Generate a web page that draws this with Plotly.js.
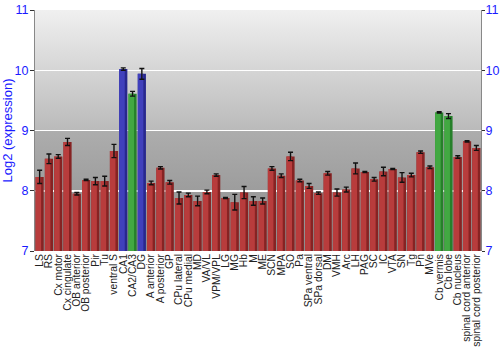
<!DOCTYPE html>
<html>
<head>
<meta charset="utf-8">
<script src="https://cdn.plot.ly/plotly-3.0.1.min.js"></script>
<style>html,body{margin:0;padding:0;background:#fff;}#chart{width:500px;height:350px;}</style>
</head>
<body>
<div id="chart"></div>
<script>
var categories = ["LS","RS","Cx motor","Cx cingulate","OB anterior","OB posterior","Pir","Tu","ventral S","CA1","CA2/CA3","DG","A anterior","A posterior","GP","CPu lateral","CPu medial","MD","VA/VL","VPM/VPL","LG","MG","Hb","M","ME","SCN","MPA","SO","Pa","SPa ventral","SPa dorsal","DM","VMH","Arc","LH","PAG","SC","IC","VTA","SN","Tg","Pn","MVe","Cb vermis","Cb lobe","Cb nucleus","spinal cord anterior","spinal cord posterior"];
var values = [8.23,8.53,8.57,8.81,7.95,8.18,8.16,8.16,8.66,10.02,9.61,9.94,8.13,8.38,8.14,7.88,7.93,7.83,7.98,8.26,7.88,7.81,7.97,7.83,7.83,8.37,8.25,8.57,8.17,8.08,7.96,8.29,7.97,8.02,8.37,8.31,8.19,8.32,8.36,8.22,8.26,8.64,8.39,9.30,9.24,8.56,8.82,8.71];
var errors = [0.11,0.08,0.03,0.06,0.02,0.01,0.06,0.08,0.11,0.02,0.04,0.09,0.03,0.02,0.03,0.10,0.03,0.08,0.03,0.02,0.01,0.13,0.10,0.07,0.05,0.03,0.03,0.07,0.02,0.04,0.02,0.03,0.06,0.04,0.09,0.01,0.03,0.07,0.01,0.08,0.03,0.02,0.02,0.01,0.04,0.02,0.01,0.04];
var groups = ["r","r","r","r","r","r","r","r","r","b","g","b","r","r","r","r","r","r","r","r","r","r","r","r","r","r","r","r","r","r","r","r","r","r","r","r","r","r","r","r","r","r","r","g","g","r","r","r"];
var yTicks = [7,8,9,10,11];

var darkCol = {r:"#862323", b:"#28288e", g:"#26802a"};
var lightCol = {r:"#b83c3c", b:"#4040bc", g:"#42a842"};

var base = {
  type:"bar", x:categories, y:values,
  width:0.88, offset:-0.44,
  marker:{color:groups.map(function(g){return darkCol[g];})},
  hoverinfo:"x+y", showlegend:false
};
var shine = {
  type:"bar", x:categories, y:values,
  width:0.6, offset:-0.44,
  marker:{color:groups.map(function(g){return lightCol[g];})},
  hoverinfo:"skip", showlegend:false
};
var errs = {
  type:"bar", x:categories, y:values, yaxis:"y2",
  width:0.88, offset:-0.44,
  marker:{color:"rgba(0,0,0,0)"},
  error_y:{type:"data", array:errors, visible:true, color:"#111", thickness:1.4, width:2.5},
  hoverinfo:"skip", showlegend:false
};

var svg = '<svg xmlns="http://www.w3.org/2000/svg" width="10" height="100" preserveAspectRatio="none"><defs><linearGradient id="g" x1="0" y1="0" x2="0" y2="1"><stop offset="0" stop-color="#f0f0f0"/><stop offset="0.5" stop-color="#bababa"/><stop offset="0.5" stop-color="#adadad"/><stop offset="1" stop-color="#8c8c8c"/></linearGradient></defs><rect width="10" height="100" fill="url(#g)"/></svg>';

var axisFont = {family:"Liberation Sans, Arial, sans-serif", size:12.5, color:"#1a1aff"};
var layout = {
  width:500, height:350,
  margin:{l:35, r:19, t:10, b:99},
  paper_bgcolor:"#ffffff", plot_bgcolor:"rgba(0,0,0,0)",
  barmode:"overlay",
  images:[{source:"data:image/svg+xml;charset=utf-8,"+encodeURIComponent(svg), xref:"paper", yref:"paper", x:0, y:1, sizex:1, sizey:1, sizing:"stretch", xanchor:"left", yanchor:"top", layer:"below"}],
  xaxis:{type:"category", tickmode:"linear", dtick:1, tick0:0, tickangle:-90, tickfont:{family:"Liberation Sans, Arial, sans-serif", size:10.3, color:"#222"}, showgrid:false, showline:false, ticks:"", range:[-0.5, categories.length-0.5], fixedrange:true},
  yaxis:{range:[7,11], tickvals:yTicks, ticks:"outside", ticklen:4, tickcolor:"#333", tickfont:axisFont, ticklabelstandoff:-1, showline:true, linecolor:"#888", linewidth:1, showgrid:true, gridcolor:"#ffffff", gridwidth:1.5, zeroline:false,
    title:{text:"Log2 (expression)", font:{family:"Liberation Sans, Arial, sans-serif", size:13, color:"#1a1aff"}, standoff:6}},
  yaxis2:{range:[7,11], tickvals:yTicks, overlaying:"y", side:"right", ticks:"outside", ticklen:3, tickcolor:"#333", tickfont:axisFont, ticklabelstandoff:-2, showline:true, linecolor:"#888", linewidth:1, showgrid:false, zeroline:false},
  hovermode:"closest"
};

Plotly.newPlot("chart", [base, shine, errs], layout, {displayModeBar:false, staticPlot:true});
</script>
</body>
</html>
